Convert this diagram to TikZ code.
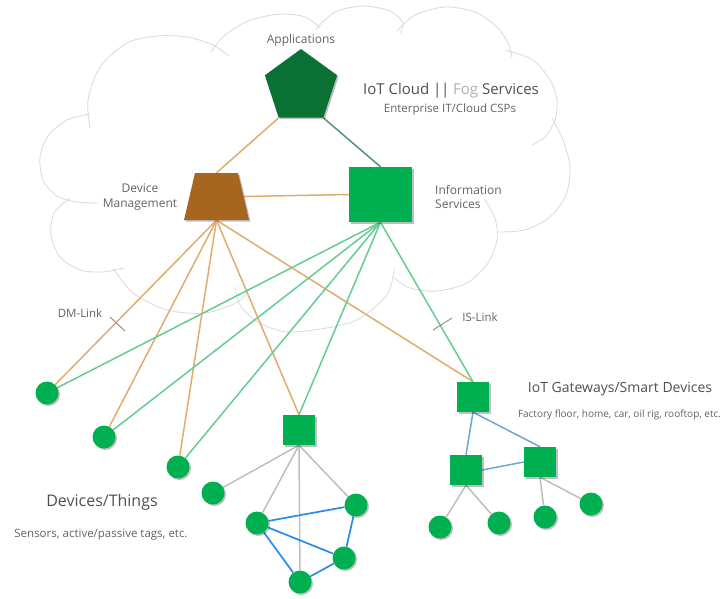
\documentclass[tikz,border=0pt]{standalone}
\usepackage{fontspec}
\setmainfont{Open Sans}
\usetikzlibrary{shapes.geometric,shadows}
\definecolor{appgreen}{RGB}{10,112,52}
\definecolor{dmbrown}{RGB}{166,102,32}
\definecolor{nodegreen}{RGB}{0,176,80}
\definecolor{tanc}{RGB}{226,172,110}
\definecolor{lgreen}{RGB}{100,205,145}
\definecolor{tealc}{RGB}{80,150,115}
\definecolor{lgrayc}{RGB}{190,190,190}
\definecolor{bluec}{RGB}{40,140,235}
\definecolor{lbluec}{RGB}{110,165,215}
\definecolor{cloudgray}{RGB}{218,218,218}
\definecolor{textgray}{RGB}{100,100,100}
\definecolor{titlegray}{RGB}{80,80,80}
\definecolor{foggray}{RGB}{175,175,175}
\pgfdeclarelayer{bg}
\pgfsetlayers{bg,main}
\tikzset{
  shd/.style={drop shadow={shadow xshift=1.5pt,shadow yshift=-1.5pt,opacity=0.25,fill=black}},
  appshape/.style={regular polygon,regular polygon sides=5,minimum size=76pt,inner sep=0pt,fill=appgreen,shd},
  dmanchor/.style={rectangle,minimum width=54pt,minimum height=47pt,inner sep=0pt},
  sqbox/.style={rectangle,minimum width=32pt,minimum height=30pt,inner sep=0pt,fill=nodegreen,shd},
  dot/.style={circle,minimum size=23pt,inner sep=0pt,fill=nodegreen,shd},
  cloudline/.style={draw=cloudgray,line width=0.8pt},
  tanline/.style={draw=tanc,line width=1.5pt},
  grnline/.style={draw=lgreen,line width=1.5pt},
  tealline/.style={draw=tealc,line width=1.5pt},
  grayline/.style={draw=lgrayc,line width=1.5pt},
  blueline/.style={draw=bluec,line width=1.7pt},
  lblueline/.style={draw=lbluec,line width=1.5pt},
  tickline/.style={draw=gray,line width=0.8pt},
  lbl/.style={text=textgray,inner sep=0pt,font=\fontsize{12}{14.5}\selectfont},
}
\begin{document}
\begin{tikzpicture}[x=1pt,y=-1pt]
\useasboundingbox (0,0) rectangle (725,598);

% nodes
\node[appshape] (app) at (301,87) {};
\fill[dmbrown,shd] (195,173) -- (238,173) -- (249,220) -- (184,220) -- cycle;
\node[dmanchor] (dm) at (216.5,196.5) {};
\node[sqbox,minimum width=63pt,minimum height=55pt] (is) at (380.5,194.5) {};
\node[sqbox] (mid) at (299,430) {};
\node[sqbox] (gw) at (473,397) {};
\node[sqbox] (s2) at (466,470) {};
\node[sqbox] (s3) at (540,462) {};
\node[dot] (c1) at (47,393) {};
\node[dot] (c2) at (104,437) {};
\node[dot] (c3) at (178,467) {};
\node[dot] (c4) at (213,493) {};
\node[dot] (c5) at (257,523) {};
\node[dot] (c6) at (356,505) {};
\node[dot] (c7) at (344,558) {};
\node[dot] (c8) at (300,582) {};
\node[dot] (c9) at (440,527) {};
\node[dot] (c10) at (499,523) {};
\node[dot] (c11) at (545,517) {};
\node[dot] (c12) at (591,504) {};

% texts
\node[lbl,anchor=base] (tapp) at (301,43) {Applications};
\node[lbl,anchor=base,text=titlegray,font=\fontsize{15}{18}\selectfont] (ttitle) at (451,94) {IoT Cloud |\kern-0.5pt| \textcolor{foggray}{Fog} Services};
\node[lbl,anchor=base,font=\fontsize{11.5}{14}\selectfont] (tsub) at (450,112.5) {Enterprise IT/Cloud CSPs};
\node[lbl,align=center] (tdm) at (140,197) {Device\\Management};
\node[lbl,align=left,anchor=west] (tis) at (435,197) {Information\\Services};
\node[lbl,anchor=base,font=\fontsize{11.5}{14}\selectfont] (tdml) at (80,317.5) {DM-Link};
\node[lbl,anchor=base,font=\fontsize{11.5}{14}\selectfont] (tisl) at (480,321.5) {IS-Link};
\node[lbl,anchor=base,text=titlegray,font=\fontsize{14}{17}\selectfont] (tgw) at (620,392) {IoT Gateways/Smart Devices};
\node[lbl,anchor=base,font=\fontsize{10}{12}\selectfont] (tgws) at (619.5,417.5) {Factory floor, home, car, oil rig, rooftop, etc.};
\node[lbl,anchor=base,text=titlegray,font=\fontsize{16}{19}\selectfont] (tdev) at (102,506.5) {Devices/Things};
\node[lbl,anchor=base,font=\fontsize{11.5}{14}\selectfont] (tdevs) at (101,537) {Sensors, active/passive tags, etc.};

\begin{pgfonlayer}{bg}
\fill[white] (0,0) rectangle (725,598);
% cloud
\draw[cloudline] plot[smooth] coordinates {(90,128) (88,100) (100,67) (127,43) (157,36) (187,37) (213,45) (229,56)};
\draw[cloudline] plot[smooth] coordinates {(211,52) (224,36) (248,21) (280,14) (305,17) (320,28)};
\draw[cloudline] plot[smooth] coordinates {(316,29) (335,12) (363,6) (390,11) (403,23) (400,33)};
\draw[cloudline] plot[smooth] coordinates {(397,31) (415,15) (445,7) (475,12) (497,27) (509,45) (512,58)};
\draw[cloudline] plot[smooth] coordinates {(505,50) (533,60) (550,80) (557,100) (555,120) (545,137) (532,145)};
\draw[cloudline] plot[smooth] coordinates {(552,118) (563,140) (570,167) (566,195) (550,217) (525,230) (497,232)};
\draw[cloudline] plot[smooth] coordinates {(485,200) (495,218) (497,240) (488,263) (467,283) (437,291) (410,288) (393,277)};
\draw[cloudline] plot[smooth] coordinates {(394,268) (387,295) (352,322) (290,332) (258,322) (240,305) (235,287)};
\draw[cloudline] plot[smooth] coordinates {(113,268) (133,293) (167,310) (205,313) (238,302) (248,290)};
\draw[cloudline] plot[smooth] coordinates {(70,198) (54,213) (51,235) (60,257) (80,270) (103,272) (124,268)};
\draw[cloudline] plot[smooth] coordinates {(90,114) (67,120) (48,136) (40,157) (43,180) (57,196) (77,202) (98,203)};

% connectors
\draw[tanline] (app.corner 3) -- (dm.north);
\draw[tealline] (app.corner 4) -- (is.north);
\draw[tanline] (dm.east) -- (is.west);
\draw[tanline] (dm.south) -- (c1);
\draw[tanline] (dm.south) -- (c2);
\draw[tanline] (dm.south) -- (c3);
\draw[tanline] (dm.south) -- (mid.north);
\draw[tanline] (dm.south) -- (gw.north);
\draw[grnline] (is.south) -- (c1);
\draw[grnline] (is.south) -- (c2);
\draw[grnline] (is.south) -- (c3);
\draw[grnline] (is.south) -- (mid.north);
\draw[grnline] (is.south) -- (gw.north);
\draw[grayline] (mid.south) -- (c4);
\draw[grayline] (mid.south) -- (c5);
\draw[grayline] (mid.south) -- (c8);
\draw[grayline] (mid.south) -- (c6);
\draw[blueline] (c5) -- (c6);
\draw[blueline] (c5) -- (c7);
\draw[blueline] (c5) -- (c8);
\draw[blueline] (c6) -- (c7);
\draw[blueline] (c7) -- (c8);
\draw[lblueline] (gw.south) -- (s2.north);
\draw[lblueline] (gw.south) -- (s3.north);
\draw[lblueline] (s2.east) -- (s3.west);
\draw[grayline] (s2.south) -- (c9);
\draw[grayline] (s2.south) -- (c10);
\draw[grayline] (s3.south) -- (c11);
\draw[grayline] (s3.south) -- (c12);
% link ticks
\draw[tickline] (110,317) -- (125,331);
\draw[tickline] (433,330) -- (452,318);
\end{pgfonlayer}
\end{tikzpicture}
\end{document}
